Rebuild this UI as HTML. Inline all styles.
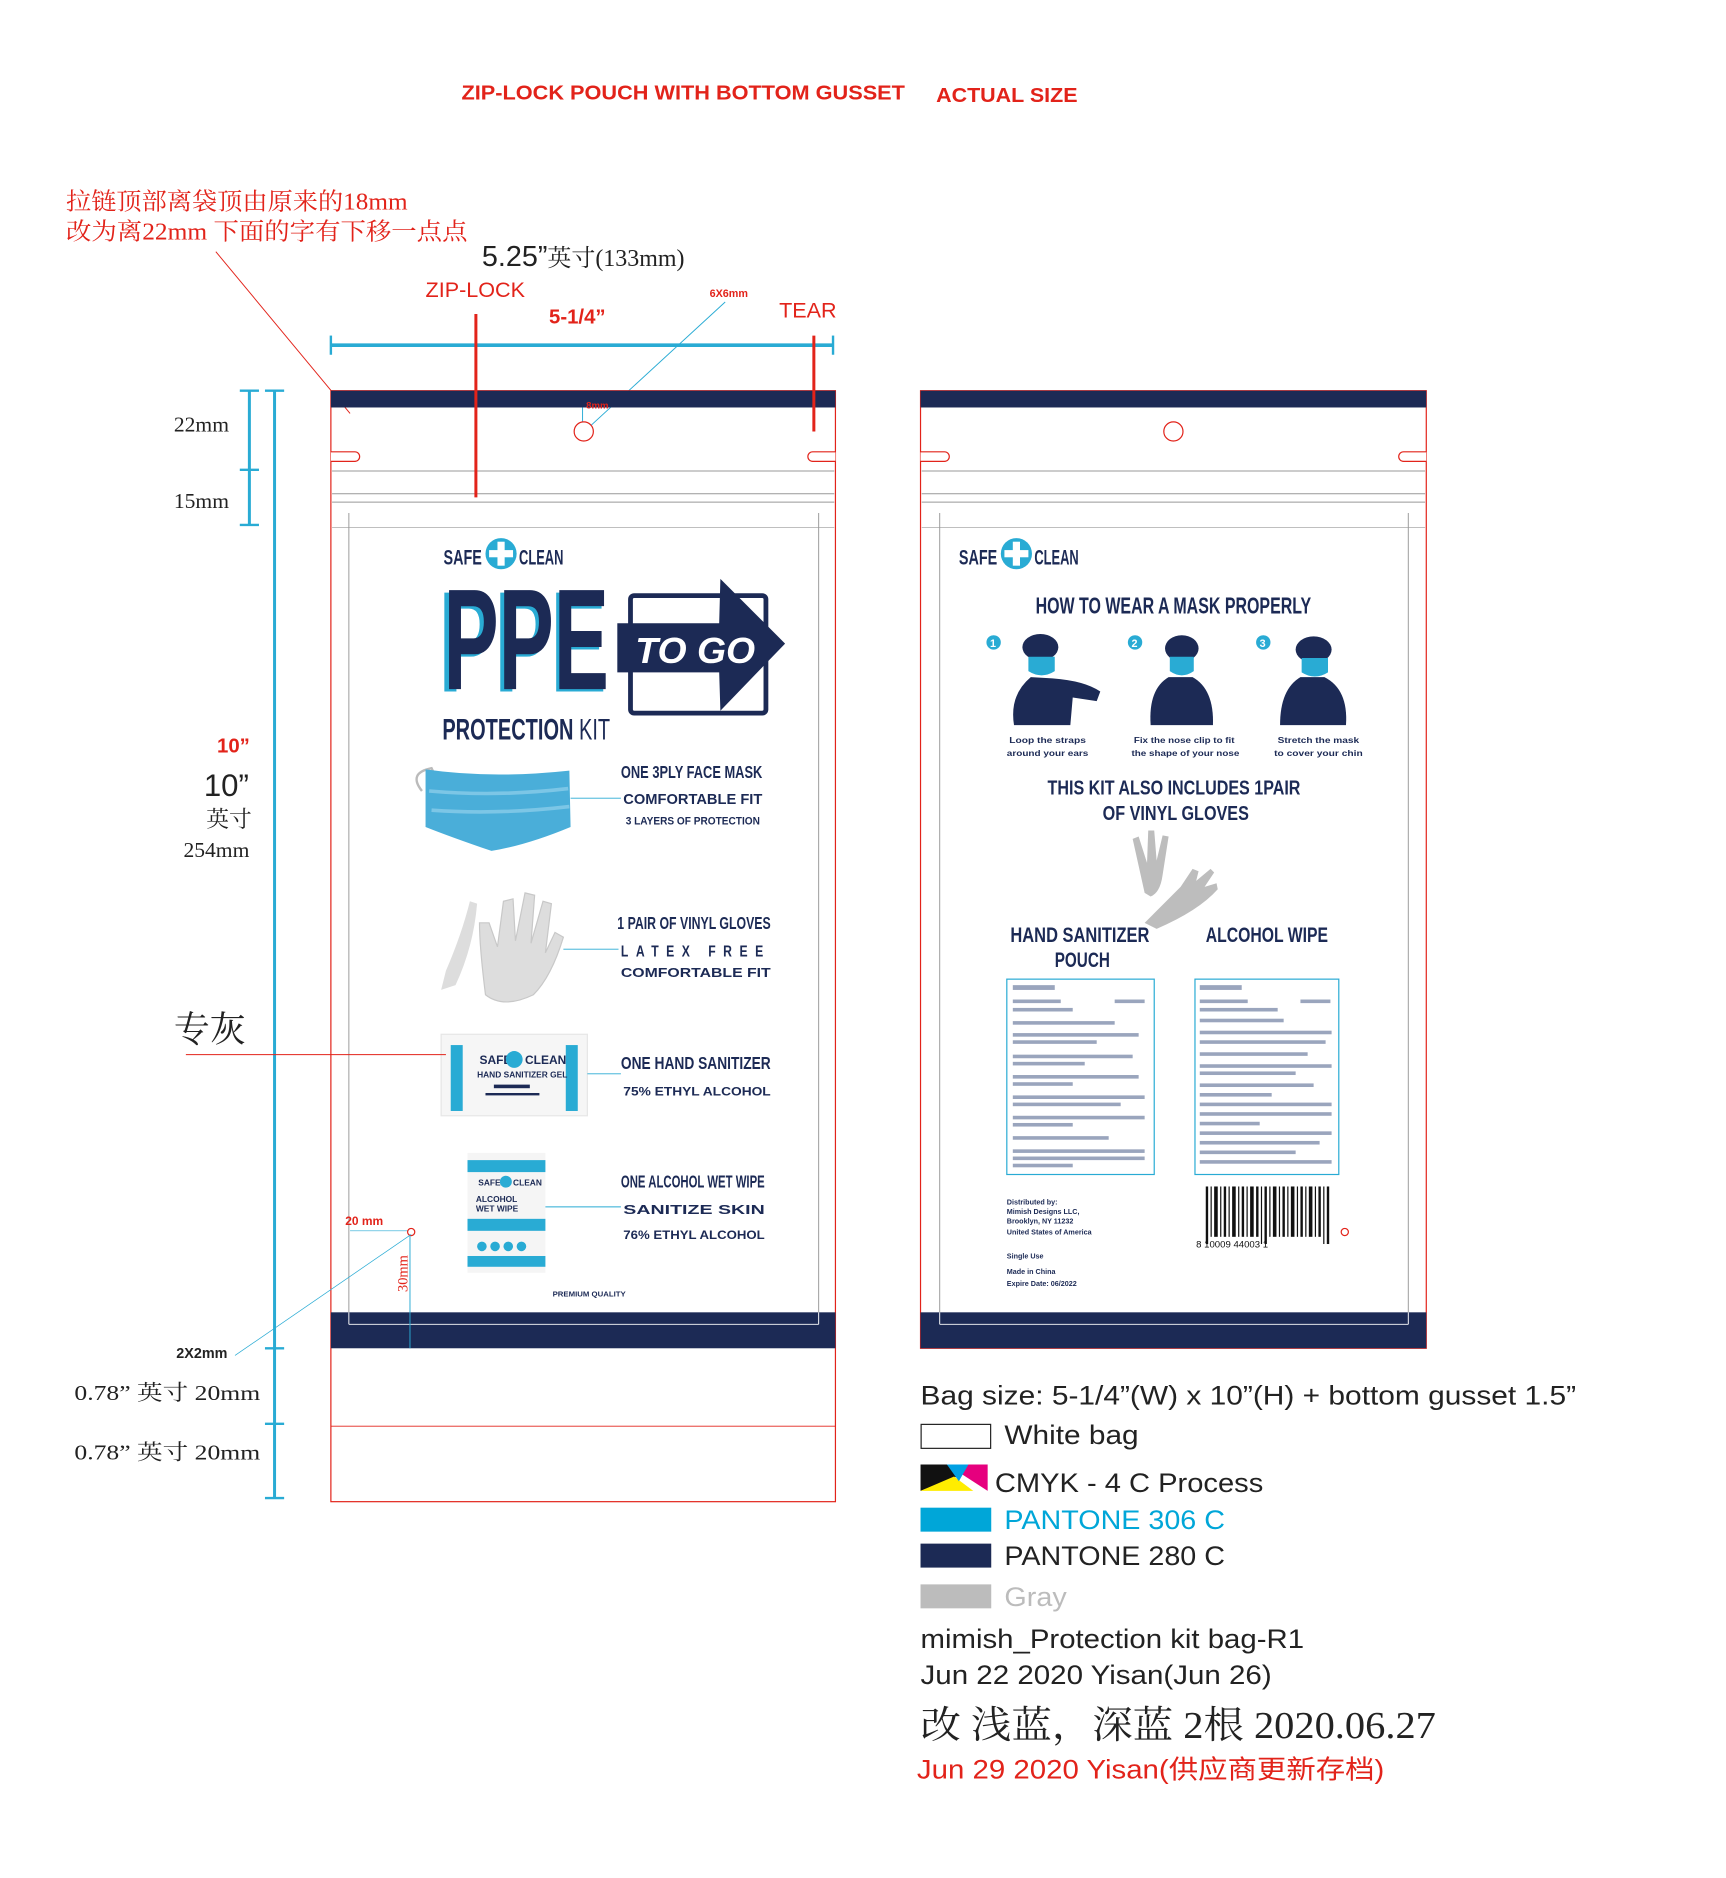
<!DOCTYPE html>
<html><head><meta charset="utf-8"><style>
html,body{margin:0;padding:0;background:#fff;}
svg{display:block;}
.cn{font-family:"Liberation Serif","Noto Serif CJK SC",serif;}
.sans{font-family:"Liberation Sans","Noto Sans CJK SC",sans-serif;}
.nar{font-family:"Liberation Sans Narrow","Liberation Sans",sans-serif;font-weight:bold;}
</style></head><body>
<svg width="1726" height="1878" viewBox="0 0 1440 1567" xmlns="http://www.w3.org/2000/svg">
<rect width="1440" height="1567" fill="#fff"/>
<text x="385" y="83" class="sans" font-size="17" font-weight="bold" fill="#e2231a" textLength="370" lengthAdjust="spacingAndGlyphs">ZIP-LOCK POUCH WITH BOTTOM GUSSET</text>
<text x="781" y="85" class="sans" font-size="17" font-weight="bold" fill="#e2231a" textLength="118" lengthAdjust="spacingAndGlyphs">ACTUAL SIZE</text>
<text x="55" y="175" class="cn" font-size="20" fill="#e2231a" textLength="285" lengthAdjust="spacingAndGlyphs">拉链顶部离袋顶由原来的18mm</text>
<text x="55" y="200" class="cn" font-size="20" fill="#e2231a" textLength="335" lengthAdjust="spacingAndGlyphs">改为离22mm  下面的字有下移一点点</text>
<line x1="180" y1="210" x2="292" y2="345" stroke="#e2231a" stroke-width="0.8"/>
<text x="402" y="222" class="sans" font-size="24" fill="#222">5.25”<tspan class="cn" font-size="20">英寸(133mm)</tspan></text>
<text x="355" y="248" class="sans" font-size="18" fill="#e2231a">ZIP-LOCK</text>
<text x="458" y="270" class="sans" font-size="17" font-weight="bold" fill="#e2231a">5-1/4”</text>
<text x="592" y="248" class="sans" font-size="9" font-weight="bold" fill="#e2231a">6X6mm</text>
<text x="650" y="265" class="sans" font-size="18" fill="#e2231a">TEAR</text>
<line x1="276" y1="288" x2="695" y2="288" stroke="#29abd4" stroke-width="3"/>
<line x1="276" y1="280" x2="276" y2="296" stroke="#29abd4" stroke-width="2"/>
<line x1="695" y1="280" x2="695" y2="296" stroke="#29abd4" stroke-width="2"/>
<line x1="605" y1="252" x2="493" y2="355" stroke="#29abd4" stroke-width="0.8"/>

<rect x="276" y="326" width="421" height="927" fill="none" stroke="#e2231a" stroke-width="1"/>
<rect x="276" y="326" width="421" height="14" fill="#1c2a55"/>
<line x1="486" y1="340" x2="486" y2="352" stroke="#29abd4" stroke-width="0.8"/>
<text x="489" y="341" class="sans" font-size="8" font-weight="bold" fill="#e2231a">8mm</text>
<circle cx="487" cy="360" r="8" fill="#fff" stroke="#e2231a"/>
<path d="M276 377 H296 a4 4 0 0 1 0 8 H276" fill="#fff" stroke="#e2231a"/>
<path d="M697 377 H678 a4 4 0 0 0 0 8 H697" fill="#fff" stroke="#e2231a"/>
<line x1="277" y1="393" x2="696" y2="393" stroke="#999" stroke-width="0.8"/>
<line x1="277" y1="412" x2="696" y2="412" stroke="#999" stroke-width="0.8"/>
<line x1="277" y1="419" x2="696" y2="419" stroke="#999" stroke-width="0.8"/>
<line x1="277" y1="440" x2="696" y2="440" stroke="#999" stroke-width="0.6"/>
<line x1="291" y1="428" x2="291" y2="1105" stroke="#999" stroke-width="0.8"/>
<line x1="683" y1="428" x2="683" y2="1105" stroke="#999" stroke-width="0.8"/>
<rect x="276" y="1095" width="421" height="30" fill="#1c2a55"/>
<line x1="291" y1="1095" x2="291" y2="1105" stroke="#fff" stroke-width="0.8"/>
<line x1="683" y1="1095" x2="683" y2="1105" stroke="#fff" stroke-width="0.8"/>
<line x1="291" y1="1105" x2="683" y2="1105" stroke="#fff" stroke-width="0.8"/>
<line x1="276" y1="1190" x2="697" y2="1190" stroke="#e2231a" stroke-width="0.8"/>
<line x1="397" y1="262" x2="397" y2="415" stroke="#e2231a" stroke-width="2.5"/>
<line x1="679" y1="280" x2="679" y2="360" stroke="#e2231a" stroke-width="2.5"/>

<g>
 <text x="370" y="471" class="nar" font-size="18" fill="#1c2a55" textLength="32" lengthAdjust="spacingAndGlyphs">SAFE</text>
 <circle cx="418" cy="462" r="13" fill="#29abd4"/>
 <rect x="415" y="452" width="6" height="20" fill="#fff"/><rect x="408" y="459" width="20" height="6" fill="#fff"/>
 <text x="433" y="471" class="nar" font-size="18" fill="#1c2a55" textLength="37" lengthAdjust="spacingAndGlyphs">CLEAN</text>
 <text x="366" y="577" class="nar" font-size="120" fill="#29abd4" textLength="140" lengthAdjust="spacingAndGlyphs">PPE</text>
 <text x="370" y="575" class="nar" font-size="120" fill="#1c2a55" textLength="138" lengthAdjust="spacingAndGlyphs">PPE</text>
 <rect x="526" y="497" width="113" height="98" rx="3" fill="none" stroke="#1c2a55" stroke-width="4"/>
 <path d="M515 520 H600 L601 483 L655 537 L601 593 L600 561 H515 Z" fill="#1c2a55"/>
 <text x="530" y="553" class="sans" font-size="30" font-weight="bold" font-style="italic" fill="#fff" textLength="100" lengthAdjust="spacingAndGlyphs">TO GO</text>
 <text x="369" y="617" class="nar" font-size="25" fill="#1c2a55" textLength="140" lengthAdjust="spacingAndGlyphs">PROTECTION <tspan font-weight="normal">KIT</tspan></text>

 <path d="M352 660 Q340 645 360 641 L372 666" fill="none" stroke="#bbb" stroke-width="2"/>
 <path d="M355 642 Q410 650 475 643 L476 690 Q440 705 410 710 Q375 698 355 690 Z" fill="#4aaed9"/>
 <path d="M358 660 Q415 665 474 658 M360 676 Q415 680 475 673" stroke="#7cc6e6" stroke-width="3" fill="none"/>
 <line x1="476" y1="666" x2="518" y2="666" stroke="#29abd4" stroke-width="0.8"/>
 <text x="518" y="649" class="nar" font-size="15" fill="#1c2a55" textLength="118" lengthAdjust="spacingAndGlyphs">ONE 3PLY FACE MASK</text>
 <text x="520" y="671" class="nar" font-size="12" fill="#1c2a55" textLength="116" lengthAdjust="spacingAndGlyphs">COMFORTABLE FIT</text>
 <text x="522" y="688" class="nar" font-size="9" fill="#1c2a55" textLength="112" lengthAdjust="spacingAndGlyphs">3 LAYERS OF PROTECTION</text>

 <path d="M372 810 Q385 780 392 752 L398 754 Q395 790 380 822 L368 826 Z" fill="#ddd"/>
 <path d="M405 830 Q400 790 400 770 L408 770 L415 790 L420 752 L428 750 L430 785 L438 745 L446 747 L443 787 L453 752 L460 754 L455 795 L463 778 L470 782 Q460 815 445 830 Q420 842 405 830 Z" fill="#ddd" stroke="#c8c8c8"/>
 <line x1="470" y1="792" x2="516" y2="792" stroke="#29abd4" stroke-width="0.8"/>
 <text x="515" y="775" class="nar" font-size="15" fill="#1c2a55" textLength="128" lengthAdjust="spacingAndGlyphs">1 PAIR OF VINYL GLOVES</text>
 <text x="518" y="798" class="nar" font-size="13" fill="#1c2a55" textLength="125" lengthAdjust="spacingAndGlyphs" letter-spacing="8">LATEX FREE</text>
 <text x="518" y="815" class="nar" font-size="11" fill="#1c2a55" textLength="125" lengthAdjust="spacingAndGlyphs">COMFORTABLE FIT</text>

 <rect x="368" y="863" width="122" height="68" fill="#f6f6f6" stroke="#e6e6e6"/>
 <rect x="376" y="872" width="10" height="55" fill="#29abd4"/><rect x="472" y="872" width="10" height="55" fill="#29abd4"/>
 <text x="400" y="888" class="nar" font-size="10" fill="#1c2a55">SAFE</text>
 <circle cx="429" cy="884" r="7" fill="#29abd4"/><text x="438" y="888" class="nar" font-size="10" fill="#1c2a55">CLEAN</text>
 <text x="398" y="899" class="nar" font-size="7" fill="#1c2a55">HAND SANITIZER GEL</text>
 <rect x="412" y="905" width="30" height="3" fill="#1c2a55"/><rect x="405" y="912" width="45" height="2" fill="#1c2a55"/>
 <line x1="490" y1="896" x2="518" y2="896" stroke="#29abd4" stroke-width="0.8"/>
 <text x="518" y="892" class="nar" font-size="15" fill="#1c2a55" textLength="125" lengthAdjust="spacingAndGlyphs">ONE HAND SANITIZER</text>
 <text x="520" y="914" class="nar" font-size="10" fill="#1c2a55" textLength="123" lengthAdjust="spacingAndGlyphs">75% ETHYL ALCOHOL</text>

 <rect x="390" y="962" width="65" height="100" fill="#f5f5f5"/>
 <rect x="390" y="968" width="65" height="10" fill="#29abd4"/>
 <text x="399" y="989" class="nar" font-size="7" fill="#1c2a55">SAFE</text><circle cx="422" cy="986" r="5" fill="#29abd4"/><text x="428" y="989" class="nar" font-size="7" fill="#1c2a55">CLEAN</text>
 <text x="397" y="1003" class="nar" font-size="7" fill="#1c2a55">ALCOHOL</text><text x="397" y="1011" class="nar" font-size="7" fill="#1c2a55">WET WIPE</text>
 <rect x="390" y="1017" width="65" height="10" fill="#29abd4"/>
 <circle cx="402" cy="1040" r="4" fill="#29abd4"/><circle cx="413" cy="1040" r="4" fill="#29abd4"/><circle cx="424" cy="1040" r="4" fill="#29abd4"/><circle cx="435" cy="1040" r="4" fill="#29abd4"/>
 <rect x="390" y="1048" width="65" height="9" fill="#29abd4"/>
 <line x1="455" y1="1007" x2="518" y2="1007" stroke="#29abd4" stroke-width="0.8"/>
 <text x="518" y="991" class="nar" font-size="15" fill="#1c2a55" textLength="120" lengthAdjust="spacingAndGlyphs">ONE ALCOHOL WET WIPE</text>
 <text x="520" y="1013" class="nar" font-size="11" fill="#1c2a55" textLength="118" lengthAdjust="spacingAndGlyphs">SANITIZE SKIN</text>
 <text x="520" y="1034" class="nar" font-size="10" fill="#1c2a55" textLength="118" lengthAdjust="spacingAndGlyphs">76% ETHYL ALCOHOL</text>
 <text x="461" y="1082" class="nar" font-size="6" fill="#1c2a55" textLength="61" lengthAdjust="spacingAndGlyphs">PREMIUM QUALITY</text>
</g>

<line x1="229" y1="326" x2="229" y2="1250" stroke="#29abd4" stroke-width="2.5"/>
<line x1="221" y1="326" x2="237" y2="326" stroke="#29abd4" stroke-width="2"/>
<line x1="221" y1="1125" x2="237" y2="1125" stroke="#29abd4" stroke-width="2"/>
<line x1="221" y1="1188" x2="237" y2="1188" stroke="#29abd4" stroke-width="2"/>
<line x1="221" y1="1250" x2="237" y2="1250" stroke="#29abd4" stroke-width="2"/>
<line x1="208" y1="326" x2="208" y2="438" stroke="#29abd4" stroke-width="2.5"/>
<line x1="200" y1="326" x2="216" y2="326" stroke="#29abd4" stroke-width="2"/>
<line x1="200" y1="392" x2="216" y2="392" stroke="#29abd4" stroke-width="2"/>
<line x1="200" y1="438" x2="216" y2="438" stroke="#29abd4" stroke-width="2"/>
<text x="145" y="360" class="cn" font-size="18" fill="#222">22mm</text>
<text x="145" y="424" class="cn" font-size="18" fill="#222">15mm</text>
<text x="181" y="628" class="sans" font-size="17" font-weight="bold" fill="#e2231a">10”</text>
<text x="170" y="664" class="sans" font-size="26" fill="#222">10”</text>
<text x="172" y="690" class="cn" font-size="19" fill="#222">英寸</text>
<text x="153" y="715" class="cn" font-size="18" fill="#222">254mm</text>
<text x="145" y="869" class="cn" font-size="30" fill="#222">专灰</text>
<line x1="155" y1="880" x2="372" y2="880" stroke="#e2231a" stroke-width="0.8"/>
<text x="288" y="1022" class="sans" font-size="10" font-weight="bold" fill="#e2231a">20 mm</text>
<line x1="292" y1="1027" x2="342" y2="1027" stroke="#29abd4" stroke-width="0.6"/>
<line x1="342" y1="1027" x2="342" y2="1125" stroke="#29abd4" stroke-width="0.8"/>
<circle cx="343" cy="1028" r="3" fill="#fff" stroke="#e2231a"/>
<text x="0" y="0" class="cn" font-size="12" fill="#e2231a" transform="translate(340,1078) rotate(-90)">30mm</text>
<line x1="196" y1="1131" x2="343" y2="1030" stroke="#29abd4" stroke-width="0.6"/>
<text x="147" y="1133" class="sans" font-size="12" font-weight="bold" fill="#222">2X2mm</text>
<text x="62" y="1168" class="cn" font-size="18" fill="#222" textLength="155" lengthAdjust="spacingAndGlyphs">0.78”  英寸 20mm</text>
<text x="62" y="1218" class="cn" font-size="18" fill="#222" textLength="155" lengthAdjust="spacingAndGlyphs">0.78”  英寸 20mm</text>

<rect x="768" y="326" width="422" height="799" fill="none" stroke="#e2231a" stroke-width="1"/>
<rect x="768" y="326" width="422" height="14" fill="#1c2a55"/>
<circle cx="979" cy="360" r="8" fill="#fff" stroke="#e2231a"/>
<path d="M768 377 H788 a4 4 0 0 1 0 8 H768" fill="#fff" stroke="#e2231a"/>
<path d="M1190 377 H1171 a4 4 0 0 0 0 8 H1190" fill="#fff" stroke="#e2231a"/>
<line x1="769" y1="393" x2="1189" y2="393" stroke="#999" stroke-width="0.8"/>
<line x1="769" y1="412" x2="1189" y2="412" stroke="#999" stroke-width="0.8"/>
<line x1="769" y1="419" x2="1189" y2="419" stroke="#999" stroke-width="0.8"/>
<line x1="769" y1="440" x2="1189" y2="440" stroke="#999" stroke-width="0.6"/>
<line x1="784" y1="428" x2="784" y2="1105" stroke="#999" stroke-width="0.8"/>
<line x1="1175" y1="428" x2="1175" y2="1105" stroke="#999" stroke-width="0.8"/>
<rect x="768" y="1095" width="422" height="30" fill="#1c2a55"/>
<line x1="784" y1="1105" x2="1175" y2="1105" stroke="#fff" stroke-width="0.8"/>
<line x1="784" y1="1095" x2="784" y2="1105" stroke="#fff" stroke-width="0.8"/>
<line x1="1175" y1="1095" x2="1175" y2="1105" stroke="#fff" stroke-width="0.8"/>

<g>
 <text x="800" y="471" class="nar" font-size="18" fill="#1c2a55" textLength="32" lengthAdjust="spacingAndGlyphs">SAFE</text>
 <circle cx="848" cy="462" r="13" fill="#29abd4"/>
 <rect x="845" y="452" width="6" height="20" fill="#fff"/><rect x="838" y="459" width="20" height="6" fill="#fff"/>
 <text x="863" y="471" class="nar" font-size="18" fill="#1c2a55" textLength="37" lengthAdjust="spacingAndGlyphs">CLEAN</text>
 <text x="864" y="512" class="nar" font-size="19" fill="#1c2a55" textLength="230" lengthAdjust="spacingAndGlyphs">HOW TO WEAR A MASK PROPERLY</text>
 <g fill="#1c2a55">
  <circle cx="829" cy="536" r="6" fill="#29abd4"/><text x="826" y="540" font-size="9" class="sans" font-weight="bold" fill="#fff">1</text>
  <circle cx="947" cy="536" r="6" fill="#29abd4"/><text x="944" y="540" font-size="9" class="sans" font-weight="bold" fill="#fff">2</text>
  <circle cx="1054" cy="536" r="6" fill="#29abd4"/><text x="1051" y="540" font-size="9" class="sans" font-weight="bold" fill="#fff">3</text>
  <ellipse cx="868" cy="540" rx="15" ry="11"/>
  <path d="M846 605 Q842 580 860 565 L878 566 Q905 568 918 577 L915 585 L895 582 L893 605 Z"/>
  <ellipse cx="986" cy="541" rx="14" ry="11"/>
  <path d="M960 605 Q958 575 975 565 L995 565 Q1013 575 1012 605 Z"/>
  <ellipse cx="1096" cy="542" rx="15" ry="11"/>
  <path d="M1068 605 Q1068 575 1085 565 L1105 565 Q1125 575 1123 605 Z"/>
 </g>
 <path d="M858 548 h22 v12 q-11 7 -22 0 Z" fill="#29abd4"/>
 <path d="M976 548 h20 v12 q-10 7 -20 0 Z" fill="#29abd4"/>
 <path d="M1086 549 h22 v12 q-11 7 -22 0 Z" fill="#29abd4"/>
 <g class="nar" font-size="7" fill="#1c2a55">
  <text x="842" y="620" textLength="64" lengthAdjust="spacingAndGlyphs">Loop the straps</text>
  <text x="840" y="631" textLength="68" lengthAdjust="spacingAndGlyphs">around your ears</text>
  <text x="946" y="620" textLength="84" lengthAdjust="spacingAndGlyphs">Fix the nose clip to fit</text>
  <text x="944" y="631" textLength="90" lengthAdjust="spacingAndGlyphs">the shape of your nose</text>
  <text x="1066" y="620" textLength="68" lengthAdjust="spacingAndGlyphs">Stretch the mask</text>
  <text x="1063" y="631" textLength="74" lengthAdjust="spacingAndGlyphs">to cover your chin</text>
 </g>
 <text x="874" y="663" class="nar" font-size="17" fill="#1c2a55" textLength="211" lengthAdjust="spacingAndGlyphs">THIS KIT ALSO INCLUDES 1PAIR</text>
 <text x="920" y="684" class="nar" font-size="17" fill="#1c2a55" textLength="122" lengthAdjust="spacingAndGlyphs">OF VINYL GLOVES</text>
 <path d="M955 745 L945 700 L950 698 L957 720 L958 693 L963 693 L965 718 L970 697 L975 698 L970 730 Q968 745 960 748 Z" fill="#bdbdbd"/>
 <path d="M955 770 L985 740 L995 725 L1000 727 L998 735 L1010 725 L1013 728 L1005 740 L1015 737 L1016 742 Q1000 760 965 775 Z" fill="#bdbdbd"/>
 <text x="843" y="786" class="nar" font-size="18" fill="#1c2a55" textLength="116" lengthAdjust="spacingAndGlyphs">HAND SANITIZER</text>
 <text x="880" y="807" class="nar" font-size="18" fill="#1c2a55" textLength="46" lengthAdjust="spacingAndGlyphs">POUCH</text>
 <text x="1006" y="786" class="nar" font-size="18" fill="#1c2a55" textLength="102" lengthAdjust="spacingAndGlyphs">ALCOHOL WIPE</text>
 <rect x="840" y="817" width="123" height="163" fill="none" stroke="#29abd4" stroke-width="1"/>
 <rect x="997" y="817" width="120" height="163" fill="none" stroke="#29abd4" stroke-width="1"/>
 <g fill="#9aa5bd">
  <rect x="845" y="822" width="35" height="4"/><rect x="845" y="834" width="40" height="3"/><rect x="930" y="834" width="25" height="3"/>
  <rect x="845" y="841" width="50" height="3"/><rect x="845" y="852" width="85" height="3"/><rect x="845" y="862" width="105" height="3"/><rect x="845" y="868" width="70" height="3"/>
  <rect x="845" y="880" width="100" height="3"/><rect x="845" y="886" width="60" height="3"/><rect x="845" y="897" width="105" height="3"/><rect x="845" y="903" width="50" height="3"/>
  <rect x="845" y="914" width="110" height="3"/><rect x="845" y="920" width="90" height="3"/><rect x="845" y="931" width="110" height="3"/><rect x="845" y="937" width="50" height="3"/>
  <rect x="845" y="948" width="80" height="3"/><rect x="845" y="959" width="110" height="3"/><rect x="845" y="965" width="110" height="3"/><rect x="845" y="971" width="50" height="3"/>
  <rect x="1001" y="822" width="35" height="4"/><rect x="1001" y="834" width="40" height="3"/><rect x="1085" y="834" width="25" height="3"/>
  <rect x="1001" y="841" width="65" height="3"/><rect x="1001" y="850" width="70" height="3"/><rect x="1001" y="860" width="110" height="3"/><rect x="1001" y="868" width="105" height="3"/>
  <rect x="1001" y="878" width="90" height="3"/><rect x="1001" y="888" width="110" height="3"/><rect x="1001" y="894" width="80" height="3"/><rect x="1001" y="904" width="95" height="3"/>
  <rect x="1001" y="912" width="60" height="3"/><rect x="1001" y="920" width="110" height="3"/><rect x="1001" y="928" width="110" height="3"/><rect x="1001" y="936" width="50" height="3"/>
  <rect x="1001" y="944" width="110" height="3"/><rect x="1001" y="952" width="100" height="3"/><rect x="1001" y="960" width="80" height="3"/><rect x="1001" y="968" width="110" height="3"/>
 </g>
 <g fill="#1c2a55" class="nar" font-size="6">
  <text x="840" y="1005">Distributed by:</text><text x="840" y="1013">Mimish Designs LLC,</text><text x="840" y="1021">Brooklyn, NY 11232</text><text x="840" y="1030">United States of America</text>
  <text x="840" y="1050">Single Use</text><text x="840" y="1063">Made in China</text><text x="840" y="1073">Expire Date: 06/2022</text>
 </g>
 <g fill="#111">
  <rect x="1006" y="990" width="2" height="48"/><rect x="1010" y="990" width="1" height="42"/><rect x="1013" y="990" width="3" height="42"/><rect x="1018" y="990" width="1" height="42"/><rect x="1021" y="990" width="2" height="42"/><rect x="1025" y="990" width="1" height="42"/><rect x="1028" y="990" width="3" height="42"/><rect x="1033" y="990" width="1" height="42"/><rect x="1036" y="990" width="2" height="42"/><rect x="1040" y="990" width="1" height="42"/><rect x="1043" y="990" width="3" height="42"/><rect x="1048" y="990" width="2" height="42"/><rect x="1052" y="990" width="1" height="48"/><rect x="1055" y="990" width="2" height="48"/><rect x="1059" y="990" width="1" height="42"/><rect x="1062" y="990" width="3" height="42"/><rect x="1067" y="990" width="1" height="42"/><rect x="1070" y="990" width="2" height="42"/><rect x="1074" y="990" width="1" height="42"/><rect x="1077" y="990" width="3" height="42"/><rect x="1082" y="990" width="1" height="42"/><rect x="1085" y="990" width="2" height="42"/><rect x="1089" y="990" width="1" height="42"/><rect x="1092" y="990" width="3" height="42"/><rect x="1097" y="990" width="1" height="42"/><rect x="1100" y="990" width="2" height="42"/><rect x="1104" y="990" width="1" height="48"/><rect x="1107" y="990" width="2" height="48"/>
  <text x="998" y="1041" font-size="8" class="sans">8   10009 44003   1</text>
 </g>
 <circle cx="1122" cy="1028" r="3" fill="#fff" stroke="#e2231a"/>
</g>

<text x="768" y="1172" class="sans" font-size="22" fill="#222" textLength="547" lengthAdjust="spacingAndGlyphs">Bag size: 5-1/4”(W) x 10”(H) + bottom gusset 1.5”</text>
<rect x="768.5" y="1188.5" width="58" height="20" fill="#fff" stroke="#222"/>
<text x="838" y="1205" class="sans" font-size="22" fill="#222" textLength="112" lengthAdjust="spacingAndGlyphs">White bag</text>
<polygon points="768,1222 824,1222 768,1244" fill="#111"/>
<polygon points="790,1222 824,1222 824,1244" fill="#e6007e"/>
<polygon points="768,1244 796,1232 812,1244" fill="#ffed00"/>
<polygon points="790,1222 808,1222 800,1236" fill="#00a0e3"/>
<text x="830" y="1245" class="sans" font-size="22" fill="#222" textLength="224" lengthAdjust="spacingAndGlyphs">CMYK - 4 C Process</text>
<rect x="768" y="1258" width="59" height="20" fill="#00a6d8"/>
<text x="838" y="1276" class="sans" font-size="22" fill="#00a6d8" textLength="184" lengthAdjust="spacingAndGlyphs">PANTONE 306 C</text>
<rect x="768" y="1288" width="59" height="20" fill="#1c2a55"/>
<text x="838" y="1306" class="sans" font-size="22" fill="#222" textLength="184" lengthAdjust="spacingAndGlyphs">PANTONE 280 C</text>
<rect x="768" y="1322" width="59" height="20" fill="#bcbcbc"/>
<text x="838" y="1340" class="sans" font-size="22" fill="#bcbcbc" textLength="52" lengthAdjust="spacingAndGlyphs">Gray</text>
<text x="768" y="1375" class="sans" font-size="22" fill="#222" textLength="320" lengthAdjust="spacingAndGlyphs">mimish_Protection kit bag-R1</text>
<text x="768" y="1405" class="sans" font-size="22" fill="#222" textLength="293" lengthAdjust="spacingAndGlyphs">Jun 22 2020 Yisan(Jun 26)</text>
<text x="768" y="1450" class="cn" font-size="32" fill="#222" textLength="430" lengthAdjust="spacingAndGlyphs">改 浅蓝，深蓝 2根  2020.06.27</text>
<text x="765" y="1484" class="sans" font-size="22" fill="#e2231a" textLength="390" lengthAdjust="spacingAndGlyphs">Jun 29 2020 Yisan(供应商更新存档)</text>
</svg>
</body></html>
